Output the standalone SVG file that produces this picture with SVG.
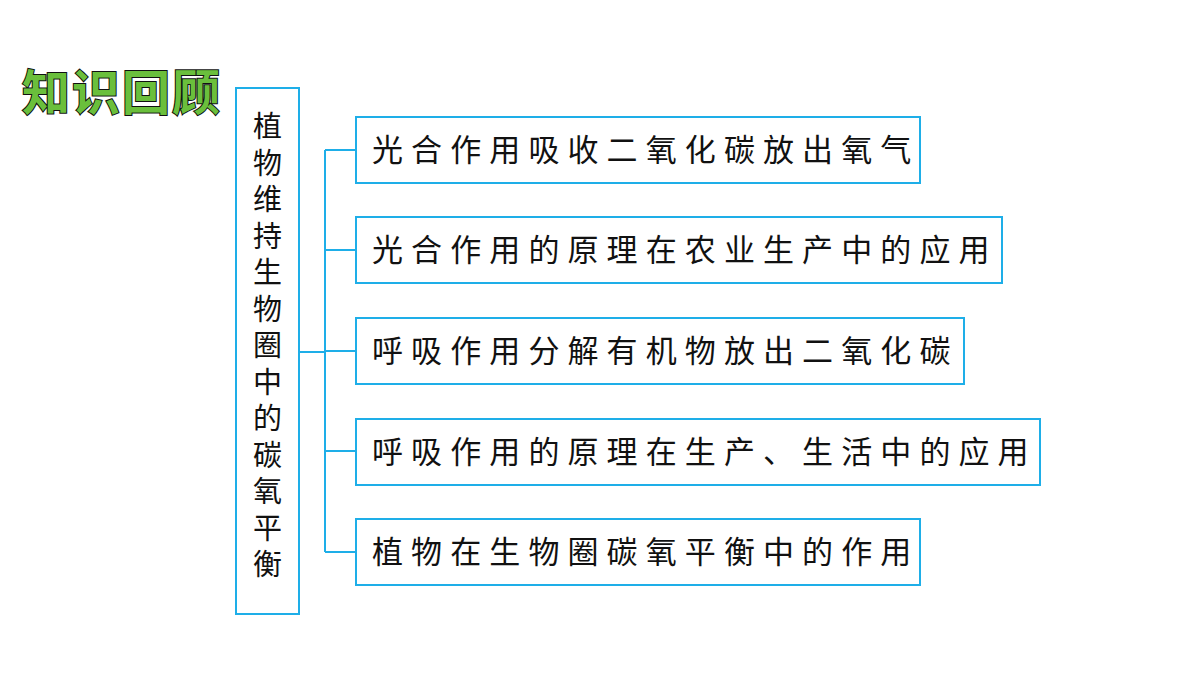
<svg xmlns="http://www.w3.org/2000/svg" width="1200" height="675" viewBox="0 0 1200 675">
<style>
.box{fill:#fff;stroke:#1eaee8;stroke-width:2}
.t{font-family:"Noto Sans CJK SC",sans-serif;font-size:31px;fill:#111;letter-spacing:8.1px}
.v{font-family:"Noto Sans CJK SC",sans-serif;font-size:29px;fill:#111;text-anchor:middle}
.ln{fill:none;stroke:#1eaee8;stroke-width:2}
</style>
<rect width="1200" height="675" fill="#fff"/>
<text x="22" y="110" font-family="Noto Sans CJK SC,sans-serif" font-size="48" font-weight="bold" fill="#6abf3c" stroke="#111" stroke-width="2" paint-order="stroke" letter-spacing="2">知识回顾</text>
<g id="connectors">
<path class="ln" d="M299 352H325M325 150V552M325 150H356M325 250H356M325 351H356M325 451H356M325 552H356"/>
</g>
<g id="root"><rect class="box" x="236" y="88" width="63" height="526"/>
<text class="v" x="267.5"><tspan x="267.5" y="137">植</tspan><tspan x="267.5" y="173.5">物</tspan><tspan x="267.5" y="210">维</tspan><tspan x="267.5" y="246.5">持</tspan><tspan x="267.5" y="283">生</tspan><tspan x="267.5" y="319.5">物</tspan><tspan x="267.5" y="356">圈</tspan><tspan x="267.5" y="392.5">中</tspan><tspan x="267.5" y="429">的</tspan><tspan x="267.5" y="465.5">碳</tspan><tspan x="267.5" y="502">氧</tspan><tspan x="267.5" y="538.5">平</tspan><tspan x="267.5" y="575">衡</tspan></text></g>
<g id="n1"><rect class="box" x="356" y="117" width="564" height="66"/><text class="t" x="372" y="161">光合作用吸收二氧化碳放出氧气</text></g>
<g id="n2"><rect class="box" x="356" y="217" width="646" height="66"/><text class="t" x="372" y="261">光合作用的原理在农业生产中的应用</text></g>
<g id="n3"><rect class="box" x="356" y="318" width="608" height="66"/><text class="t" x="372" y="362">呼吸作用分解有机物放出二氧化碳</text></g>
<g id="n4"><rect class="box" x="356" y="419" width="684" height="66"/><text class="t" x="372" y="463">呼吸作用的原理在生产、生活中的应用</text></g>
<g id="n5"><rect class="box" x="356" y="519" width="564" height="66"/><text class="t" x="372" y="563">植物在生物圈碳氧平衡中的作用</text></g>
</svg>
